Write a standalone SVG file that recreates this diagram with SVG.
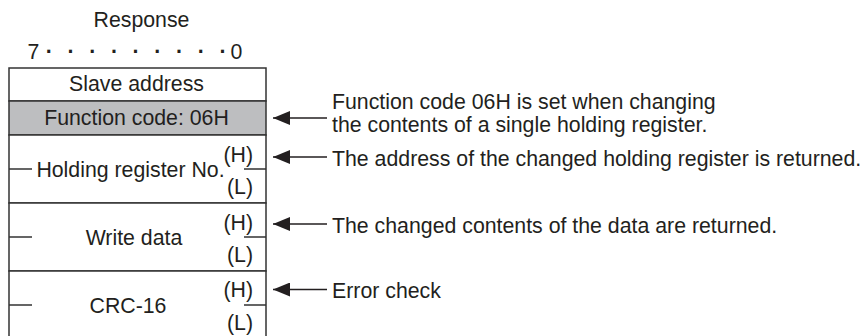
<svg xmlns="http://www.w3.org/2000/svg" width="867" height="336" viewBox="0 0 867 336">
<style>
text{font-family:"Liberation Sans",Arial,sans-serif;font-size:21.3px;fill:#231f20}
.c{text-anchor:middle}
.e{text-anchor:end}
.d{font-weight:bold}
.f{fill:#ffffff;stroke:#333333;stroke-width:1.5}
.g{fill:#bdbec0;stroke:#333333;stroke-width:1.5}
.t{stroke:#333333;stroke-width:1.5;fill:none}
.a{stroke:#231f20;stroke-width:1.3;fill:none;marker-end:url(#ah)}
</style>
<defs>
<marker id="ah" markerUnits="userSpaceOnUse" markerWidth="18" markerHeight="14" refX="17" refY="7" orient="auto"><path d="M0,0 L17,7 L0,14 Z" fill="#231f20"/></marker>
</defs>
<rect width="867" height="336" fill="#ffffff"/>
<g id="header">
<text class="c" x="141.5" y="27">Response</text>
<text y="59"><tspan x="27.5">7</tspan><tspan class="d" x="45.8 67.5 89.2 110.9 132.6 154.3 176 197.7 219.4">·········</tspan><tspan x="230.5">0</tspan></text>
</g>
<g id="slave-address">
<rect class="f" x="9" y="68" width="257" height="33"/>
<text class="c" x="136.5" y="90.5">Slave address</text>
</g>
<g id="function-code">
<rect class="g" x="9" y="101" width="257" height="34"/>
<text class="c" x="136.5" y="125">Function code: 06H</text>
</g>
<g id="holding-register">
<rect class="f" x="9" y="135" width="257" height="68"/>
<path class="t" d="M9,169 H32 M244,169 H266"/>
<text class="c" x="130.5" y="176.5">Holding register No.</text>
<text class="e" x="253" y="162">(H)</text>
<text class="e" x="253" y="194">(L)</text>
</g>
<g id="write-data">
<rect class="f" x="9" y="203" width="257" height="68"/>
<path class="t" d="M9,237 H32 M244,237 H266"/>
<text class="c" x="134" y="245">Write data</text>
<text class="e" x="253" y="229.5">(H)</text>
<text class="e" x="253" y="262">(L)</text>
</g>
<g id="crc-16">
<rect class="f" x="9" y="271" width="257" height="70"/>
<path class="t" d="M9,305 H32 M244,305 H266"/>
<text class="c" x="128" y="312.5">CRC-16</text>
<text class="e" x="253" y="297">(H)</text>
<text class="e" x="253" y="329.5">(L)</text>
</g>
<g id="connectors">
<line class="a" x1="327" y1="118" x2="273" y2="118"/>
<line class="a" x1="327" y1="157" x2="273" y2="157"/>
<line class="a" x1="327" y1="224" x2="273" y2="224"/>
<line class="a" x1="327" y1="289.5" x2="273" y2="289.5"/>
</g>
<g id="notes">
<text x="332" y="109">Function code 06H is set when changing</text>
<text x="332" y="131.5">the contents of a single holding register.</text>
<text x="332" y="166">The address of the changed holding register is returned.</text>
<text x="332" y="233">The changed contents of the data are returned.</text>
<text x="332" y="298">Error check</text>
</g>
</svg>
